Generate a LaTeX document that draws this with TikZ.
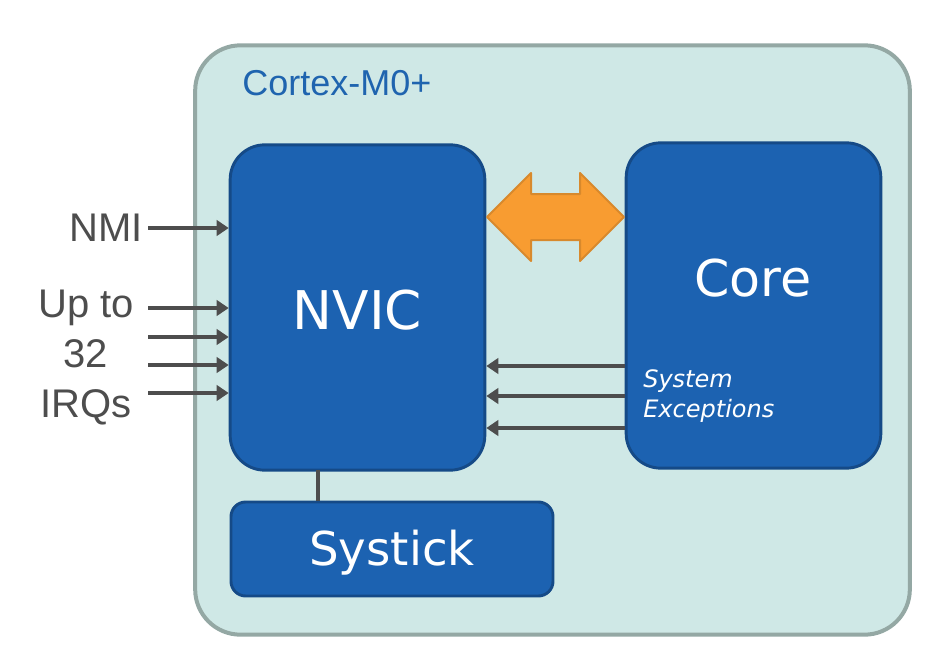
\documentclass[tikz,border=0pt]{standalone}
\usepackage{fontspec}
\setmainfont{Liberation Sans}
\newfontfamily\boxfont{DejaVu Sans}
\usepackage{xcolor}
\usetikzlibrary{arrows.meta,positioning}

\definecolor{chipfill}{HTML}{CFE8E6}
\definecolor{chipline}{HTML}{94A8A4}
\definecolor{blockfill}{HTML}{1C62B1}
\definecolor{blockline}{HTML}{154A87}
\definecolor{busfill}{HTML}{F89C31}
\definecolor{busline}{HTML}{D8892C}
\definecolor{sigcol}{HTML}{4D4D4D}
\definecolor{titlecol}{HTML}{1F64AF}

\begin{document}
\begin{tikzpicture}[
  x=0.75pt, y=-0.75pt,
  chip/.style={draw=chipline, line width=3pt, fill=chipfill, rounded corners=34pt,
               minimum width=536pt, minimum height=442pt},
  block/.style={draw=blockline, line width=2.2pt, fill=blockfill, rounded corners=26pt,
                minimum width=191pt, minimum height=244pt, inner sep=0pt},
  blocktext/.style={text=white, font=\boxfont\fontsize{40}{48}\selectfont, inner sep=0pt},
  sidelabel/.style={text=sigcol, font=\fontsize{30}{37.5}\selectfont, inner sep=0pt},
  sig/.style={draw=sigcol, line width=3.3pt, -{Triangle[length=9pt, width=11.5pt]}},
  link/.style={draw=sigcol, line width=3.3pt},
]
\useasboundingbox (0,0) rectangle (934,656);

% container
\node[chip] (m0) at (552.5,340) {};
\node[anchor=west, text=titlecol, font=\fontsize{27}{32}\selectfont, inner sep=0pt]
  (title) at (242,83) {Cortex-M0+};

% blocks
\node[block] (nvic) at (357.5,307.5) {};
\node[blocktext] (nvictxt) at (357.5,310) {NVIC};
\node[block] (core) at (753.5,305.5) {};
\node[blocktext, font=\boxfont\fontsize{38}{46}\selectfont] (coretxt) at (753,278) {Core};
\node[block, rounded corners=11pt, minimum width=241.5pt, minimum height=70.5pt]
  (systick) at (392,549) {};
\node[blocktext, font=\boxfont\fontsize{35}{42}\selectfont] (systxt) at (392,553) {Systick};
\node[anchor=north west, align=left, text=white, inner sep=0pt,
      font=\boxfont\itshape\fontsize{18}{22.5}\selectfont] (sysexc) at (643,369)
  {System\\Exceptions};

% bus between NVIC and core
\draw[fill=busfill, draw=busline, line width=1.5pt, line join=round]
  (487,217) -- (531,173) -- (531,194) -- (580,194) -- (580,173) -- (624,217)
  -- (580,261) -- (580,240) -- (531,240) -- (531,261) -- cycle;

% interrupt inputs
\node[sidelabel, anchor=east] (nmi) at (143,228) {NMI};
\node[sidelabel, align=center] (irq) at (86,358) {Up to\\32\\IRQs};
\coordinate (instart) at (148,228);
\draw[sig] (instart) -- (instart -| nvic.west);
\foreach \y in {308,337,365,393}
  \draw[sig] (instart |- 0,\y) -- (nvic.west |- 0,\y);

% system exceptions
\foreach \y in {366,396,428}
  \draw[sig] (core.west |- 0,\y) -- (nvic.east |- 0,\y);

% systick link
\coordinate (tap) at (318,470);
\draw[link] (tap) -- (tap |- systick.north);
\end{tikzpicture}
\end{document}
